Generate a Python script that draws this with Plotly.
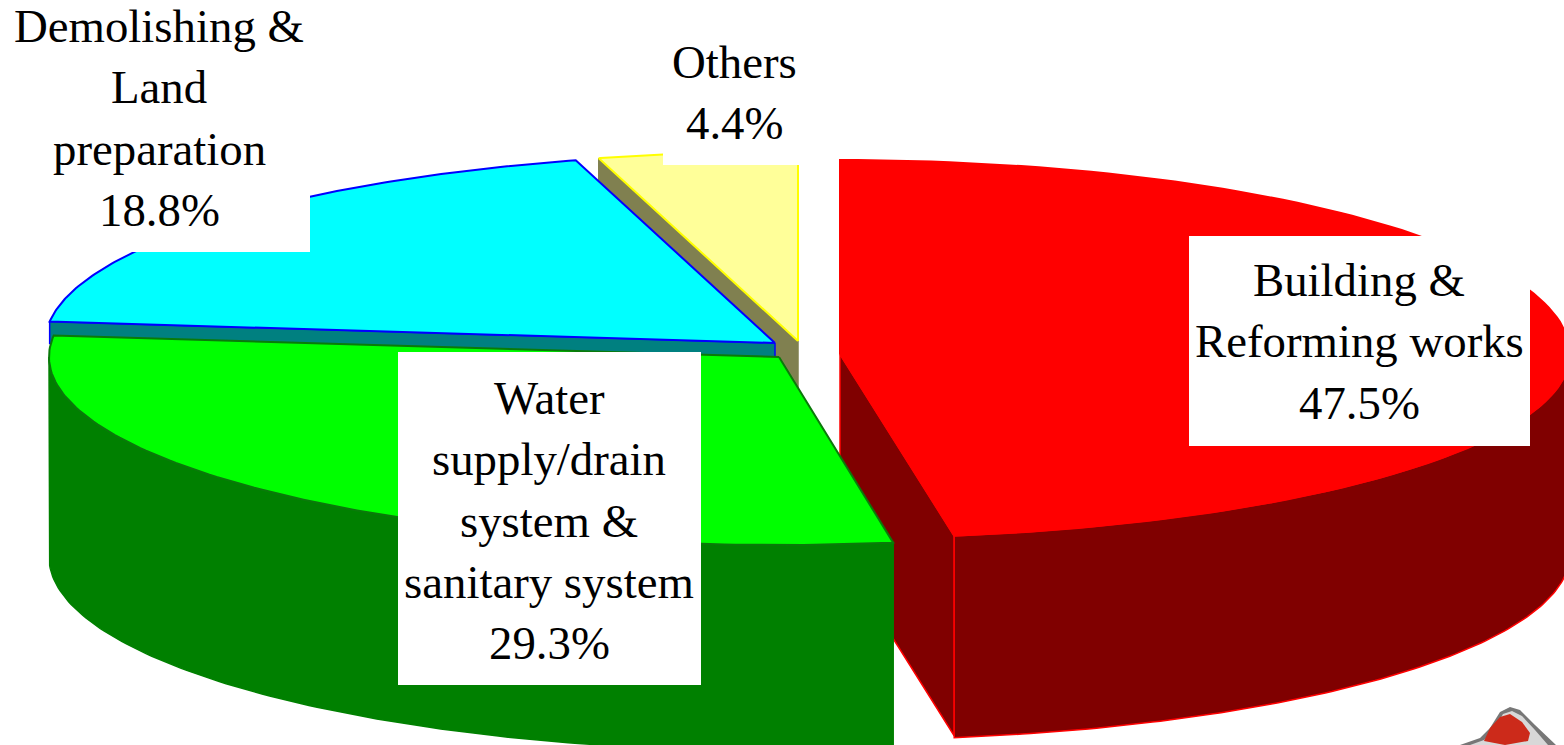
import numpy as np
import plotly.graph_objects as go

# Data
categories = ["Building & Reforming works", "Water supply/drain system & sanitary system",
              "Demolishing & Land preparation", "Others"]
shares = [47.5, 29.3, 18.8, 4.4]
top_colors = ["#ff0000", "#00ff00", "#00ffff", "#ffff99"]
wall_colors = ["#800000", "#008000", "#008080", "#808050"]
edge_colors = ["#ff0000", "#0a7a0a", "#0000ff", "#ffff00"]
apex_x = [840, 779, 775, 798]
apex_y = [354, 357, 343, 341]
ry_back = [194, 190, 190, 190]
ry_front = [184, 188, 190, 190]
front_extra = [2, 6, 0, 0]
label_lines = [["Building &", "Reforming works", "47.5%"],
               ["Water", "supply/drain", "system &", "sanitary system", "29.3%"],
               ["Demolishing &", "Land", "preparation", "18.8%"],
               ["Others", "4.4%"]]
label_cx = [1359, 549, 159, 734]
label_y0 = [280, 398, 26, 62]
label_boxes = [(1189, 236, 1530, 446), (398, 352, 701, 685), (0, 0, 310, 252), (663, 0, 800, 165)]

RX, DEPTH, LEFT_LIMIT = 730, 200, 48
LINE_STEP = 61.3

ends = np.cumsum(shares) / 100 * 2 * np.pi
starts = np.r_[0, ends[:-1]]


def rim(i, a, b, dy=0.0, extra=0.0, n=120):
    t = np.linspace(a, b, n)
    c = np.cos(t)
    ry = np.where(c >= 0, ry_back[i], ry_front[i])
    return (np.maximum(apex_x[i] + RX * np.sin(t), LEFT_LIMIT),
            apex_y[i] - ry * c + dy + extra * np.maximum(0, -c))


def poly(xs, ys, fill, edge, width=1.5):
    return go.Scatter(x=np.asarray(xs), y=np.asarray(ys), mode="lines", fill="toself",
                      fillcolor=fill, line=dict(color=edge, width=width),
                      hoverinfo="skip", showlegend=False)


def top(i):
    x, y = rim(i, starts[i], ends[i])
    return poly(np.r_[apex_x[i], x, apex_x[i]], np.r_[apex_y[i], y, apex_y[i]], top_colors[i], edge_colors[i], 2)


def outer_wall(i, edge):
    a, b = max(starts[i], np.pi / 2), min(ends[i], 3 * np.pi / 2)
    x, y = rim(i, a, b)
    x2, y2 = rim(i, a, b, DEPTH, front_extra[i])
    return poly(np.r_[x, x2[::-1], x[0]], np.r_[y, y2[::-1], y[0]], wall_colors[i], edge)


def cut_wall(i, angle, edge, depth=DEPTH):
    x, y = rim(i, angle, angle, n=1)
    return poly([apex_x[i], x[0], x[0], apex_x[i], apex_x[i]],
                [apex_y[i], y[0], y[0] + depth, apex_y[i] + depth, apex_y[i]],
                wall_colors[i], edge)


fig = go.Figure()
# back to front
fig.add_trace(cut_wall(0, ends[0], "#ff0000"))
fig.add_trace(outer_wall(0, "#ff0000"))
fig.add_trace(top(0))
fig.add_trace(cut_wall(3, starts[3], wall_colors[3]))
fig.add_trace(top(3))
fig.add_trace(cut_wall(2, starts[2], "#0000ff", depth=22))
fig.add_trace(top(2))
fig.add_trace(outer_wall(1, "#008000"))
fig.add_trace(top(1))

shapes = [dict(type="rect", x0=b[0], y0=b[1], x1=b[2], y1=b[3], xref="x", yref="y",
               fillcolor="#ffffff", line=dict(width=0), layer="above") for b in label_boxes]
# fragment of the neighbouring picture in the lower right corner
shapes += [
    dict(type="path", path="M1460,745 L1480,738 L1490,728 L1500,712 L1510,707 L1520,710 L1535,725 L1556,745 Z",
         fillcolor="#777777", line=dict(width=0), layer="above"),
    dict(type="path", path="M1470,745 L1484,740 L1494,730 L1503,714 L1512,711 L1522,716 L1535,730 L1548,745 Z",
         fillcolor="#d8d8d8", line=dict(width=0), layer="above"),
    dict(type="path", path="M1484,741 L1490,728 L1500,717 L1510,714 L1522,722 L1530,733 L1528,741 L1505,745 Z",
         fillcolor="#cc2a1a", line=dict(width=0), layer="above"),
]

annotations = []
for lines, cx, y0 in zip(label_lines, label_cx, label_y0):
    for k, line in enumerate(lines):
        annotations.append(dict(x=cx, y=y0 + k * LINE_STEP, xref="x", yref="y", text=line, showarrow=False,
                                xanchor="center", yanchor="middle",
                                font=dict(family="Liberation Serif", size=46.8, color="#000000")))

fig.update_layout(
    width=1564, height=745, margin=dict(l=0, r=0, t=0, b=0),
    paper_bgcolor="#ffffff", plot_bgcolor="#ffffff", showlegend=False,
    xaxis=dict(range=[0, 1564], visible=False, fixedrange=True),
    yaxis=dict(range=[745, 0], visible=False, fixedrange=True),
    shapes=shapes, annotations=annotations,
)
fig.write_html("out.html", config=dict(displayModeBar=False),
               post_script="document.body.style.margin='0';document.body.style.overflow='hidden';")
